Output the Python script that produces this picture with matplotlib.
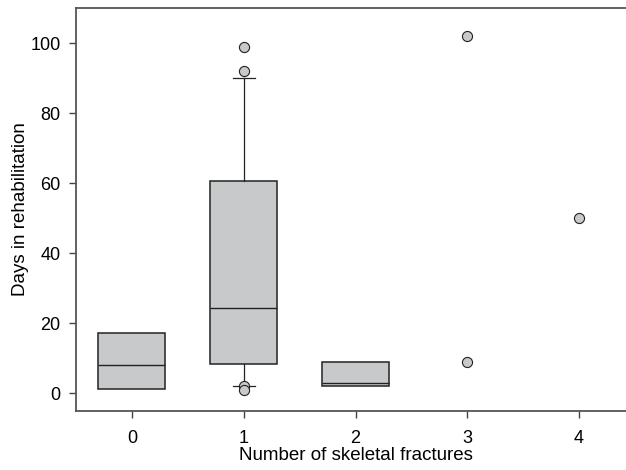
import matplotlib
matplotlib.use("Agg")
import matplotlib.pyplot as plt

plt.rcParams['font.family'] = ['Liberation Sans', 'DejaVu Sans']

# Data
groups = [0, 1, 2]
q1 = [1.4, 8.5, 2.0]
med = [8.0, 24.5, 3.0]
q3 = [17.4, 60.6, 9.0]
whislo = [1.4, 2.2, 2.0]
whishi = [17.4, 90.0, 9.0]
fliers = [[], [99, 92, 2.0, 1.0], []]
point_x = [3, 3, 4]
point_y = [102, 9, 50]
xticks = [0, 1, 2, 3, 4]

fig = plt.figure(figsize=(6.26, 4.70), dpi=100)
ax = fig.add_axes([76/626, 1-411/470, (635-76)/626, (411-8)/470])

stats = []
for i in range(len(groups)):
    stats.append(dict(q1=q1[i], med=med[i], q3=q3[i], whislo=whislo[i],
                      whishi=whishi[i], fliers=fliers[i]))

box_fc = '#c8c9cb'
edge = '#222222'
ax.bxp(stats, positions=groups, widths=0.6, patch_artist=True,
       showcaps=True, capwidths=[0, 0.2, 0],
       boxprops=dict(facecolor=box_fc, edgecolor=edge, linewidth=1.1),
       medianprops=dict(color=edge, linewidth=1.0),
       whiskerprops=dict(color=edge, linewidth=0.9),
       capprops=dict(color=edge, linewidth=0.9),
       flierprops=dict(marker='o', markerfacecolor=box_fc, markeredgecolor=edge,
                       markersize=7.3, markeredgewidth=0.8))

ax.scatter(point_x, point_y, s=53, facecolor=box_fc, edgecolor=edge, linewidth=0.8, zorder=3)

ax.set_xlim(-0.5, 4.5)
ax.set_ylim(-5, 110)
ax.set_xticks(xticks)
ax.set_xticklabels([str(t) for t in xticks])
ax.set_yticks([0, 20, 40, 60, 80, 100])
ax.tick_params(axis='both', labelsize=13, color='#444444', length=5, width=1)
ax.tick_params(axis='x', pad=9)
ax.tick_params(axis='y', pad=6)
for s in ax.spines.values():
    s.set_color('#555555')
    s.set_linewidth(1.3)
ax.set_xlabel('Number of skeletal fractures', fontsize=13.5, labelpad=0)
ax.set_ylabel('Days in rehabilitation', fontsize=13.5, labelpad=1)

fig.savefig('out.png', dpi=100)
